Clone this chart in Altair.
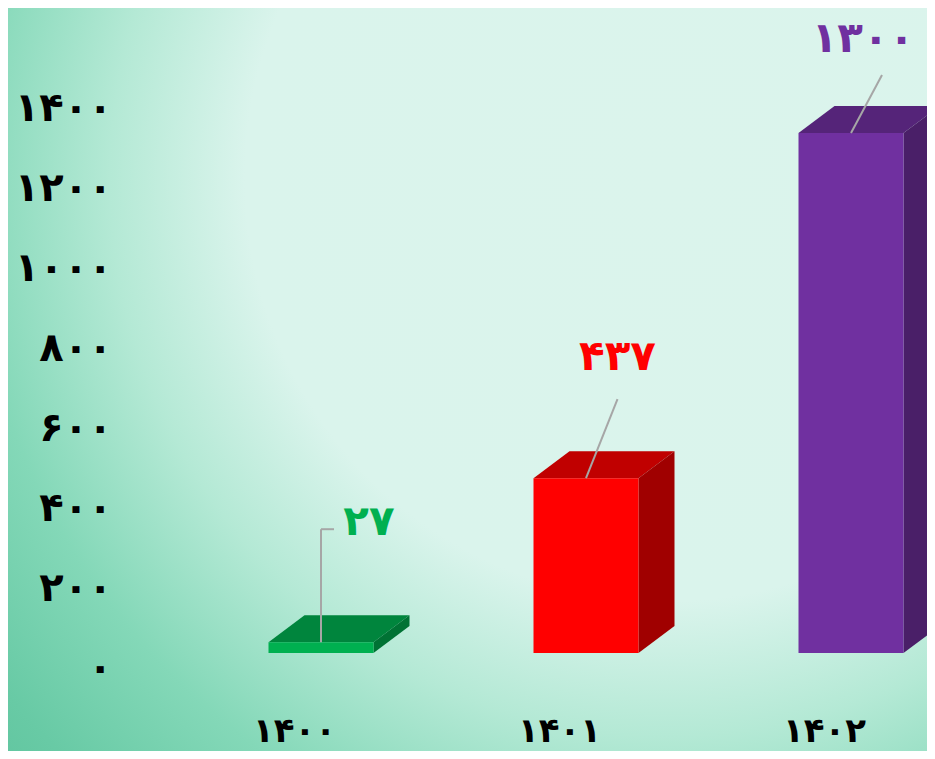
import json
import altair as alt
import pandas as pd

# ---------------- data ----------------
years = ["۱۴۰۰", "۱۴۰۱", "۱۴۰۲"]
values = [27, 437, 1300]
value_labels = ["۲۷", "۴۳۷", "۱۳۰۰"]
front_colors = ["#00b050", "#ff0000", "#7030a0"]
top_colors = ["#00853d", "#c00000", "#552479"]
side_colors = ["#007234", "#a00000", "#4a1f68"]
y_ticks = [0, 200, 400, 600, 800, 1000, 1200, 1400]
y_tick_labels = ["۰", "۲۰۰", "۴۰۰", "۶۰۰", "۸۰۰", "۱۰۰۰", "۱۲۰۰", "۱۴۰۰"]

# ---------------- layout ----------------
W, H = 797, 692
PAD = {"left": 122, "top": 0, "right": 0, "bottom": 51}
PX_PER_X = 265.0          # pixels per category step
PX_PER_Y = 0.4            # pixels per value unit
X_DOMAIN = [-191 / PX_PER_X, (W - 191) / PX_PER_X]
Y_DOMAIN = [-(H - 645) / PX_PER_Y, 645 / PX_PER_Y]
HALF_W = 52.5 / PX_PER_X  # half width of front face
DEPTH_X = 36 / PX_PER_X   # 3D depth, horizontal
DEPTH_Y = 27 / PX_PER_Y   # 3D depth, vertical
FONT = "DejaVu Sans"

# label / leader offsets in pixels relative to the bar top centre
label_off = [(48, 120), (31.5, 121), (12, 94)]
leader_segments = [
    [((0, 0), (0, 113)), ((0, 113), (13, 113))],
    [((0, 0), (31.5, 79))],
    [((0, 0), (31, 58))],
]

xs = alt.Scale(domain=X_DOMAIN, nice=False, zero=False)
ys = alt.Scale(domain=Y_DOMAIN, nice=False, zero=False)

front_rows, face_rows, text_rows, leader_rows = [], [], [], []
for i, (v, fc, tc, sc) in enumerate(zip(values, front_colors, top_colors, side_colors)):
    x0, x1 = i - HALF_W, i + HALF_W
    front_rows.append({"x": x0, "x2": x1, "y": 0, "y2": v, "color": fc})
    # top face (parallelogram)
    for x, y, y2 in [(x0, v, v), (x0 + DEPTH_X, v, v + DEPTH_Y),
                     (x1, v, v + DEPTH_Y), (x1 + DEPTH_X, v + DEPTH_Y, v + DEPTH_Y)]:
        face_rows.append({"face": f"top{i}", "x": x, "y": y, "y2": y2, "color": tc})
    # side face
    for x, y, y2 in [(x1, 0, v), (x1 + DEPTH_X, DEPTH_Y, v + DEPTH_Y)]:
        face_rows.append({"face": f"side{i}", "x": x, "y": y, "y2": y2, "color": sc})
    ox, oy = label_off[i]
    text_rows.append({"x": i + ox / PX_PER_X, "y": v + oy / PX_PER_Y,
                      "label": value_labels[i], "color": fc})
    for (ax, ay), (bx, by) in leader_segments[i]:
        leader_rows.append({"x": i + ax / PX_PER_X, "y": v + ay / PX_PER_Y,
                            "x2": i + bx / PX_PER_X, "y2": v + by / PX_PER_Y})

front = pd.DataFrame(front_rows)
faces = pd.DataFrame(face_rows)
texts = pd.DataFrame(text_rows)
leaders = pd.DataFrame(leader_rows)

x_label_expr = json.dumps(years, ensure_ascii=False) + "[datum.value]"
y_label_expr = json.dumps(y_tick_labels, ensure_ascii=False) + "[round(datum.value / 200)]"

x_axis = alt.Axis(values=[0, 1, 2], labelExpr=x_label_expr, ticks=False,
                  tickSize=0, domain=False, grid=False, labelOffset=-27,
                  labelPadding=31, labelBaseline="middle", labelFont=FONT,
                  labelFontSize=34, labelFontWeight="bold", labelColor="#000000",
                  title=None, zindex=2)
y_axis = alt.Axis(values=y_ticks, labelExpr=y_label_expr, ticks=False,
                  tickSize=0, domain=False, grid=False, labelOffset=15,
                  labelPadding=18, labelFont=FONT, labelFontSize=40,
                  labelFontWeight="bold",
                  labelColor="#000000", labelAlign="right",
                  labelBaseline="middle", title=None, zindex=2)

X = alt.X("x:Q", scale=xs, axis=x_axis, title=None)
Y = alt.Y("y:Q", scale=ys, axis=y_axis, title=None, stack=None)

# background gradient (decorative)
bg = alt.Chart(pd.DataFrame({"a": [0]})).mark_rect(
    fill=alt.RadialGradient(
        gradient="radial",
        x1=0.66, y1=0.17, r1=0,
        x2=0.66, y2=0.17, r2=0.9,
        stops=[
            alt.GradientStop(offset=0, color="#dbf4ec"),
            alt.GradientStop(offset=0.47, color="#daf4ec"),
            alt.GradientStop(offset=0.62, color="#b4e9d5"),
            alt.GradientStop(offset=0.78, color="#84d8b8"),
            alt.GradientStop(offset=0.93, color="#68caa5"),
            alt.GradientStop(offset=1, color="#60c59f"),
        ],
    ),
    stroke=None,
).encode(
    x=alt.value(-PAD["left"]), x2=alt.value(-PAD["left"] + 1000),
    y=alt.value(0), y2=alt.value(1000),
)

faces_layer = alt.Chart(faces).mark_area(interpolate="linear").encode(
    x=X, y=Y, y2="y2:Q",
    color=alt.Color("color:N", scale=None),
    detail="face:N",
)

front_layer = alt.Chart(front).mark_rect().encode(
    x=X, x2="x2:Q", y=Y, y2="y2:Q",
    color=alt.Color("color:N", scale=None),
)

leader_layer = alt.Chart(leaders).mark_rule(color="#a6a6a6", strokeWidth=2).encode(
    x=X, x2="x2:Q", y=Y, y2="y2:Q",
)

text_layer = alt.Chart(texts).mark_text(
    font=FONT, fontSize=42, fontWeight="bold", align="center", baseline="middle"
).encode(
    x=X, y=Y,
    text="label:N",
    color=alt.Color("color:N", scale=None),
)

chart = alt.layer(bg, faces_layer, front_layer, leader_layer, text_layer).properties(
    width=W, height=H,
    padding=PAD,
    autosize=alt.AutoSizeParams(type="none"),
    background="#daf4ec",
).configure_view(stroke=None)

chart.save("out.html", embed_options={"renderer": "svg", "actions": False})
